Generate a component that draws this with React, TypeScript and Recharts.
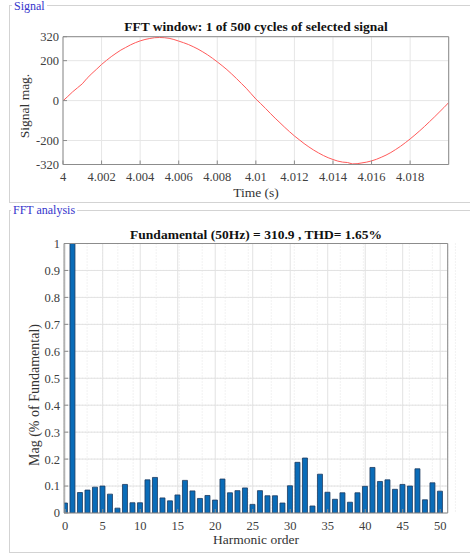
import React from 'react';
import { LineChart, Line, BarChart, Bar, XAxis, YAxis, CartesianGrid } from 'recharts';

const signalTimes = [
  4, 4.00025, 4.0005, 4.00075, 4.001, 4.00125, 4.0015, 4.00175, 4.002, 4.00225,
  4.0025, 4.00275, 4.003, 4.00325, 4.0035, 4.00375, 4.004, 4.00425, 4.0045, 4.00475,
  4.005, 4.00525, 4.0055, 4.00575, 4.006, 4.00625, 4.0065, 4.00675, 4.007, 4.00725,
  4.0075, 4.00775, 4.008, 4.00825, 4.0085, 4.00875, 4.009, 4.00925, 4.0095, 4.00975,
  4.01, 4.01025, 4.0105, 4.01075, 4.011, 4.01125, 4.0115, 4.01175, 4.012, 4.01225,
  4.0125, 4.01275, 4.013, 4.01325, 4.0135, 4.01375, 4.014, 4.01425, 4.0145, 4.01475,
  4.015, 4.01525, 4.0155, 4.01575, 4.016, 4.01625, 4.0165, 4.01675, 4.017, 4.01725,
  4.0175, 4.01775, 4.018, 4.01825, 4.0185, 4.01875, 4.019, 4.01925, 4.0195, 4.01975,
  4.02,
];
const signalValues = [
  -1, 21, 44, 64, 84, 112, 136, 158, 181, 201,
  220, 237, 253, 266, 279, 290, 299, 306, 311, 315,
  316, 315, 312, 306, 298, 290, 281, 270, 258, 244,
  229, 212, 194, 175, 155, 133, 110, 86, 62, 35,
  8, -15, -39, -64, -88, -111, -134, -156, -177, -196,
  -215, -232, -248, -262, -275, -286, -295, -303, -308, -310,
  -317, -316, -312, -308, -302, -294, -284, -273, -260, -245,
  -229, -211, -192, -172, -151, -129, -106, -83, -59, -35,
  -10,
];
const timeTicks = [4, 4.002, 4.004, 4.006, 4.008, 4.01, 4.012, 4.014, 4.016, 4.018];
const signalTicks = [-320, -200, 0, 200, 320];

const harmonicOrders = [
  0, 1, 2, 3, 4, 5, 6, 7, 8, 9, 10, 11, 12, 13, 14, 15, 16, 17, 18, 19, 20,
  21, 22, 23, 24, 25, 26, 27, 28, 29, 30, 31, 32, 33, 34, 35, 36, 37, 38, 39, 40,
  41, 42, 43, 44, 45, 46, 47, 48, 49, 50,
];
const harmonicMags = [
  0.037, 1, 0.076, 0.085, 0.096, 0.1, 0.07, 0.018, 0.106, 0.038, 0.038,
  0.123, 0.132, 0.056, 0.045, 0.067, 0.121, 0.082, 0.054, 0.065, 0.048,
  0.126, 0.075, 0.083, 0.093, 0.032, 0.083, 0.064, 0.064, 0.037, 0.101,
  0.188, 0.204, 0.026, 0.144, 0.077, 0.051, 0.075, 0.04, 0.075, 0.099,
  0.169, 0.117, 0.123, 0.088, 0.106, 0.1, 0.164, 0.049, 0.112, 0.081,
];
const harmonicTicks = [0, 5, 10, 15, 20, 25, 30, 35, 40, 45, 50];
const harmonicMinorTicks = [
  0, 1, 2, 3, 4, 5, 6, 7, 8, 9, 10, 11, 12, 13, 14, 15, 16, 17, 18, 19, 20,
  21, 22, 23, 24, 25, 26, 27, 28, 29, 30, 31, 32, 33, 34, 35, 36, 37, 38, 39, 40,
  41, 42, 43, 44, 45, 46, 47, 48, 49, 50, 51,
];
const magTicks = [0, 0.1, 0.2, 0.3, 0.4, 0.5, 0.6, 0.7, 0.8, 0.9, 1];
const magMinorTicks = [
  0, 0.02, 0.04, 0.06, 0.08, 0.1, 0.12, 0.14, 0.16, 0.18, 0.2, 0.22, 0.24, 0.26, 0.28,
  0.3, 0.32, 0.34, 0.36, 0.38, 0.4, 0.42, 0.44, 0.46, 0.48, 0.5, 0.52, 0.54, 0.56, 0.58,
  0.6, 0.62, 0.64, 0.66, 0.68, 0.7, 0.72, 0.74, 0.76, 0.78, 0.8, 0.82, 0.84, 0.86, 0.88,
  0.9, 0.92, 0.94, 0.96, 0.98, 1,
];

const signalData = signalTimes.map((t, i) => ({ t, v: signalValues[i] }));
const fftData = harmonicOrders.map((h, i) => ({ h, m: harmonicMags[i] }));

const SERIF = '"Liberation Serif", "DejaVu Serif", serif';
const AXIS = '#8c8c8c';
const TICK = { fontSize: 12.5, fill: '#404040', fontFamily: SERIF };
const fmtTime = (v: number) => String(parseFloat(v.toFixed(3)));
const fmtMag = (v: number) => String(parseFloat(v.toFixed(2)));

const abs = (l: number, t: number): React.CSSProperties => ({ position: 'absolute', left: l, top: t });

export default function App() {
  return (
    <div style={{ position: 'absolute', left: 0, top: 0, width: 470, height: 553, background: '#fff', overflow: 'hidden', fontFamily: SERIF }}>
      {/* group boxes */}
      <div style={{ position: 'absolute', left: 9, top: 5, width: 470, height: 196, borderLeft: '1px solid #d3d3d3', borderTop: '1px solid #d3d3d3', borderBottom: '1px solid #d3d3d3' }} />
      <div style={{ ...abs(12, 0), background: '#fff', padding: '0 2px', color: '#3535cc', fontSize: 12, lineHeight: '12px' }}>Signal</div>
      <div style={{ position: 'absolute', left: 9, top: 210, width: 470, height: 341, borderLeft: '1px solid #d3d3d3', borderTop: '1px solid #d3d3d3', borderBottom: '1px solid #d3d3d3' }} />
      <div style={{ ...abs(11, 203), background: '#fff', padding: '0 2px', color: '#3535cc', fontSize: 12, lineHeight: '14px' }}>FFT analysis</div>

      {/* top chart */}
      <div style={abs(0, 0)}>
        <LineChart width={470} height={205} data={signalData} margin={{ top: 36.7, right: 21.3, bottom: 10.5, left: 13 }}>
          <CartesianGrid xAxisId="t" yAxisId="v" stroke="#e6e6e6" />
          <XAxis xAxisId="t" dataKey="t" type="number" domain={[4, 4.02]} ticks={timeTicks} tickFormatter={fmtTime}
            height={30} tickSize={-4} tickMargin={12} stroke={AXIS} tick={TICK} allowDataOverflow interval={0} />
          <XAxis xAxisId="tTop" orientation="top" mirror type="number" domain={[4, 4.02]} ticks={timeTicks}
            height={10} tickSize={4} stroke={AXIS} tick={false} allowDataOverflow />
          <YAxis yAxisId="v" type="number" domain={[-320, 320]} ticks={signalTicks} width={50}
            tickSize={-4} tickMargin={8} stroke={AXIS} tick={TICK} allowDataOverflow interval={0} />
          <YAxis yAxisId="vRight" orientation="right" mirror type="number" domain={[-320, 320]} ticks={signalTicks}
            width={10} tickSize={4} stroke={AXIS} tick={false} allowDataOverflow />
          <Line xAxisId="t" yAxisId="v" dataKey="v" type="linear" stroke="#ff5a5a" strokeWidth={1} dot={false} isAnimationActive={false} />
        </LineChart>
      </div>
      <div style={{ ...abs(256, 27.3), transform: 'translate(-50%, -50%)', whiteSpace: 'nowrap', fontWeight: 'bold', fontSize: 13.5, color: '#111' }}>
        FFT window: 1 of 500 cycles of selected signal
      </div>
      <div style={{ ...abs(256, 192.7), transform: 'translate(-50%, -50%)', whiteSpace: 'nowrap', fontSize: 13.5, color: '#333' }}>Time (s)</div>
      <div style={{ ...abs(25, 106), transform: 'translate(-50%, -50%) rotate(-90deg)', whiteSpace: 'nowrap', fontSize: 13.5, color: '#333' }}>Signal mag.</div>

      {/* bottom chart */}
      <div style={abs(0, 200)}>
        <BarChart width={470} height={353} data={fftData} margin={{ top: 43.5, right: 22.3, bottom: 10, left: 14.1 }}>
          <CartesianGrid xAxisId="hMinor" yAxisId="mMinor" stroke="#e4e4e4" strokeDasharray="1 2" />
          <CartesianGrid xAxisId="h" yAxisId="m" stroke="#e2e2e2" />
          <XAxis xAxisId="hMinor" hide type="number" domain={[-0.15, 51]} ticks={harmonicMinorTicks} allowDataOverflow />
          <YAxis yAxisId="mMinor" hide type="number" domain={[0, 1]} ticks={magMinorTicks} allowDataOverflow />
          <XAxis xAxisId="h" dataKey="h" type="number" domain={[-0.15, 51]} ticks={harmonicTicks}
            height={30} tickSize={-4} tickMargin={12} stroke={AXIS} tick={TICK} allowDataOverflow interval={0} />
          <XAxis xAxisId="hTop" orientation="top" mirror type="number" domain={[-0.15, 51]} ticks={harmonicTicks}
            height={10} tickSize={4} stroke={AXIS} tick={false} allowDataOverflow />
          <YAxis yAxisId="m" type="number" domain={[0, 1]} ticks={magTicks} tickFormatter={fmtMag} width={50}
            tickSize={-4} tickMargin={8} stroke={AXIS} tick={TICK} allowDataOverflow interval={0} />
          <YAxis yAxisId="mRight" orientation="right" mirror type="number" domain={[0, 1]} ticks={magTicks}
            width={10} tickSize={4} stroke={AXIS} tick={false} allowDataOverflow />
          <Bar xAxisId="h" yAxisId="m" dataKey="m" barSize={5} fill="#0a6cb8" stroke="#1d3a60" strokeWidth={0.8} isAnimationActive={false} />
        </BarChart>
      </div>
      <div style={{ ...abs(256, 235), transform: 'translate(-50%, -50%)', whiteSpace: 'nowrap', fontWeight: 'bold', fontSize: 13.5, color: '#111' }}>
        Fundamental (50Hz) = 310.9 , THD= 1.65%
      </div>
      <div style={{ ...abs(256, 540), transform: 'translate(-50%, -50%)', whiteSpace: 'nowrap', fontSize: 13.5, color: '#333' }}>Harmonic order</div>
      <div style={{ ...abs(35, 395), transform: 'translate(-50%, -50%) rotate(-90deg)', whiteSpace: 'nowrap', fontSize: 14, color: '#333' }}>Mag (% of Fundamental)</div>
    </div>
  );
}
